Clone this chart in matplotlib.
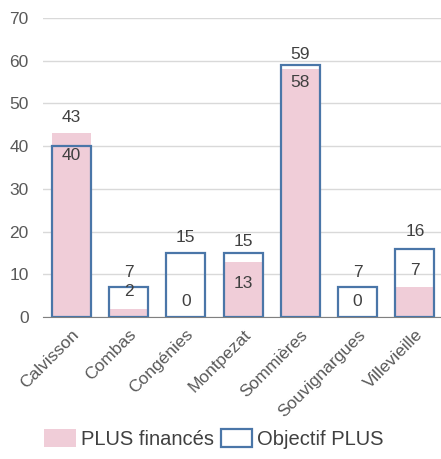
import matplotlib
matplotlib.use("Agg")
import matplotlib.pyplot as plt
import matplotlib.patches as patches
import numpy as np

plt.rcParams['font.family'] = ['Liberation Sans', 'DejaVu Sans']

# Data
communes = ["Calvisson", "Combas", "Congénies", "Montpezat", "Sommières",
            "Souvignargues", "Villevieille"]
plus_finances = [43, 2, 0, 13, 58, 0, 7]
objectif_plus = [40, 7, 15, 15, 59, 7, 16]

# label placement (data units): upper label above the tallest bar,
# lower label where the chart placed it
upper_offset = [3.8, 3.5, 3.6, 2.8, 2.5, 3.5, 4.1]
lower_label_y = [37.9, 5.9, 3.7, 7.8, 54.8, 3.7, 10.9]

pink = "#F0CDD8"
blue = "#4A76A8"
txt = "#404040"

fig = plt.figure(figsize=(4.41, 4.59), dpi=100)
ax = fig.add_axes([0.0968, 0.309, 0.909, 0.652])

x = np.arange(len(communes))
w = 0.68
ax.bar(x, plus_finances, width=w, color=pink, zorder=2, label="PLUS financés")
ax.bar(x, objectif_plus, width=w, facecolor="none", edgecolor=blue,
       linewidth=1.6, zorder=3, label="Objectif PLUS")

for i in range(len(communes)):
    top = max(plus_finances[i], objectif_plus[i])
    if plus_finances[i] > objectif_plus[i]:
        up, low = plus_finances[i], objectif_plus[i]
    else:
        up, low = objectif_plus[i], plus_finances[i]
    ax.text(x[i], top + upper_offset[i], str(up), ha='center', va='center',
            fontsize=12.5, color=txt, zorder=4)
    ax.text(x[i], lower_label_y[i], str(low), ha='center', va='center',
            fontsize=12.5, color=txt, zorder=4)

ax.set_xlim(-0.5, len(communes) - 0.5)
ax.set_ylim(0, 70)
ax.set_yticks(range(0, 71, 10))
ax.yaxis.grid(True, color="#D9D9D9", linewidth=1.0, zorder=0)
ax.set_axisbelow(True)
for s in ["left", "right", "top"]:
    ax.spines[s].set_visible(False)
ax.spines["bottom"].set_color("#808080")
ax.tick_params(axis='y', length=0, pad=10, labelsize=12.5, labelcolor="#595959")
ax.tick_params(axis='x', length=0, pad=7, labelsize=12.5, labelcolor="#595959")
ax.set_xticks(x)
ax.set_xticklabels(communes, rotation=45, ha='right', va='top',
                   rotation_mode='anchor')

handles = [patches.Patch(facecolor=pink, edgecolor='none'),
           patches.Patch(facecolor='white', edgecolor=blue, linewidth=1.6)]
fig.legend(handles, ["PLUS financés", "Objectif PLUS"], loc='center',
           bbox_to_anchor=(0.485, 0.043), ncol=2, frameon=False,
           fontsize=14.5, handlelength=1.55, handleheight=1.0,
           handletextpad=0.25, columnspacing=0.35, labelcolor="#404040")

fig.savefig("out.png", dpi=100)
